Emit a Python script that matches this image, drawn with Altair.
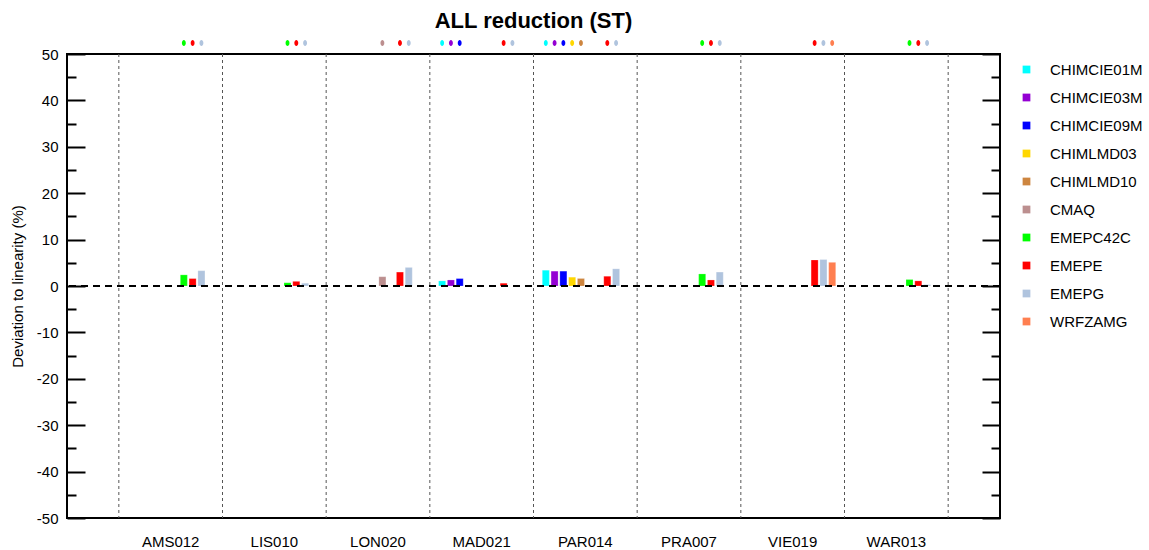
import altair as alt
import pandas as pd

stations = ["AMS012", "LIS010", "LON020", "MAD021", "PAR014", "PRA007", "VIE019", "WAR013"]
models = ["CHIMCIE01M", "CHIMCIE03M", "CHIMCIE09M", "CHIMLMD03", "CHIMLMD10",
          "CMAQ", "EMEPC42C", "EMEPE", "EMEPG", "WRFZAMG"]
colors = ["#00FFFF", "#9400D3", "#0000FF", "#FFD700", "#CD853F",
          "#BC8F8F", "#00FF00", "#FF0000", "#B0C4DE", "#FF7F50"]

# values per model, aligned with stations (None = no data)
chimcie01m = [None, None, None, 1.1, 3.4, None, None, None]
chimcie03m = [None, None, None, 1.3, 3.2, None, None, None]
chimcie09m = [None, None, None, 1.6, 3.2, None, None, None]
chimlmd03 = [None, None, None, None, 1.9, None, None, None]
chimlmd10 = [None, None, None, None, 1.6, None, None, None]
cmaq = [None, None, 2.0, None, None, None, None, None]
emepc42c = [2.4, 0.7, None, None, None, 2.6, None, 1.4]
emepe = [1.6, 1.0, 3.0, 0.6, 2.1, 1.3, 5.6, 1.1]
emepg = [3.3, 0.6, 4.0, 0.0, 3.7, 3.0, 5.7, 0.3]
wrfzamg = [None, None, None, None, None, None, 5.1, None]

series = [chimcie01m, chimcie03m, chimcie09m, chimlmd03, chimlmd10,
          cmaq, emepc42c, emepe, emepg, wrfzamg]

major_ticks = [-50, -40, -30, -20, -10, 0, 10, 20, 30, 40, 50]
minor_ticks = [-45, -35, -25, -15, -5, 5, 15, 25, 35, 45]

rows = []
for m, vals in zip(models, series):
    for s, v in zip(stations, vals):
        if v is not None:
            rows.append({"station": s, "model": m, "value": v})
df = pd.DataFrame(rows)

FONT = "Liberation Sans"

xscale = alt.Scale(type="band", domain=stations, paddingInner=0, paddingOuter=0.5)
xoff_scale = alt.Scale(domain=models, paddingInner=0.2, paddingOuter=1)
yscale = alt.Scale(domain=[-50, 50], nice=False, zero=False)
color_scale = alt.Scale(domain=models, range=colors)

xaxis = alt.Axis(title=None, ticks=False, domain=False, grid=False, labelAngle=0,
                 labelFontSize=15, labelPadding=16, labelColor="black", labelFont=FONT)

vlines = alt.Chart(pd.DataFrame({"station": stations})).mark_rule(
    color="#555555", strokeDash=[3, 3], strokeWidth=1
).encode(x=alt.X("station:N", scale=xscale, bandPosition=0, axis=xaxis))

vlast = alt.Chart(pd.DataFrame({"station": stations[-1:]})).mark_rule(
    color="#555555", strokeDash=[3, 3], strokeWidth=1
).encode(x=alt.X("station:N", scale=xscale, bandPosition=1, axis=xaxis))

bars = alt.Chart(df).mark_bar(stroke="white", strokeOpacity=0.35, strokeWidth=0.6).encode(
    x=alt.X("station:N", scale=xscale, axis=xaxis),
    xOffset=alt.XOffset("model:N", scale=xoff_scale),
    y=alt.Y("value:Q", scale=yscale,
            axis=alt.Axis(orient="left", title="Deviation to linearity (%)", values=major_ticks,
                          labelExpr="'' + datum.value",
                          ticks=False, domain=False, grid=False, labelFontSize=15,
                          labelColor="black", labelFont=FONT, labelPadding=9,
                          titleFontSize=15, titleFontWeight="normal", titleFont=FONT,
                          titleColor="black", titlePadding=11)),
    color=alt.Color("model:N", scale=color_scale,
                    legend=alt.Legend(title=None, orient="none", legendX=952, legendY=8,
                                      symbolType="square", symbolSize=60, symbolStrokeWidth=0,
                                      labelFontSize=15, labelFont=FONT, labelColor="black",
                                      labelOffset=16, rowPadding=12, padding=0)),
)

zero = alt.Chart(pd.DataFrame({"z": [0]})).mark_rule(
    color="black", strokeDash=[7, 5], strokeWidth=2
).encode(y=alt.Y("z:Q", scale=yscale, axis=None))

ellipse = "M0,-1A0.65,1,0,1,1,0,1A0.65,1,0,1,1,0,-1Z"
dots = alt.Chart(df).mark_point(shape=ellipse, size=36, filled=True, opacity=1, strokeWidth=0).encode(
    x=alt.X("station:N", scale=xscale, axis=xaxis),
    xOffset=alt.XOffset("model:N", scale=xoff_scale),
    y=alt.value(-11),
    color=alt.Color("model:N", scale=color_scale, legend=None),
)


def tick_layer(orient, vals, size):
    return alt.Chart(pd.DataFrame({"v": vals})).mark_point(opacity=0).encode(
        y=alt.Y("v:Q", scale=yscale,
                axis=alt.Axis(orient=orient, values=vals, labels=False, domain=False, grid=False,
                              title=None, ticks=True, tickSize=size, tickWidth=2,
                              tickColor="black", offset=-size))
    )


chart = alt.layer(
    vlines, vlast, bars, zero, dots,
    tick_layer("left", major_ticks, 18),
    tick_layer("left", minor_ticks, 9),
    tick_layer("right", major_ticks, 18),
    tick_layer("right", minor_ticks, 9),
).resolve_scale(color="independent").resolve_axis(y="independent").properties(
    width=933, height=464,
    padding={"left": 67, "top": 54, "right": 149, "bottom": 32},
    autosize=alt.AutoSizeParams(type="none"),
    title=alt.TitleParams("ALL reduction (ST)", fontSize=22, fontWeight="bold", font=FONT,
                          color="black", anchor="middle", frame="group", offset=7),
).configure(font=FONT).configure_view(stroke="black", strokeWidth=2)

chart.save("out.html", embed_options={"renderer": "svg", "actions": False})
